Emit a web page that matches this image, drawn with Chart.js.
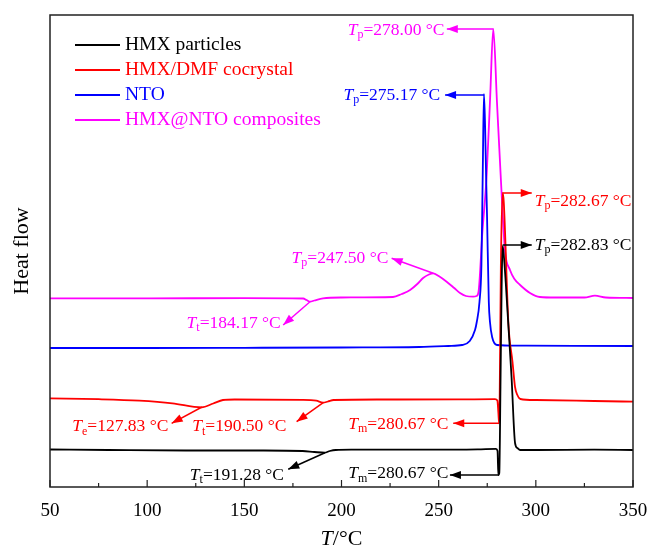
<!DOCTYPE html>
<html>
<head>
<meta charset="utf-8">
<script src="https://cdn.jsdelivr.net/npm/chart.js@4/dist/chart.umd.min.js"></script>
<style>
  body { margin: 0; background: #fff; }
  canvas { display: block; }
</style>
</head>
<body>
<canvas id="dsc" width="649" height="550"></canvas>
<script>
// DSC curves, heat flow in arbitrary units (exo up)
const hmxT  = [50, 80, 120, 160, 180, 186, 191.3, 194, 197, 205, 240, 270, 279.5, 280.3, 280.7, 281.2, 281.8, 282.4, 282.9, 283.5, 284.5, 285.7, 287.5, 289.3, 290.5, 291.9, 300, 330, 350];
const hmxHF = [37.5, 37, 36.5, 36.5, 36, 35, 34.3, 36, 37, 37.3, 37.3, 37.6, 38.2, 36, 12, 14, 100, 200, 241, 232, 205, 167, 110, 44, 39, 37, 37, 37.3, 37];

const dmfT  = [50, 75, 96, 113, 128, 134, 139, 145, 180, 187, 190.5, 193, 196, 220, 260, 279, 280.2, 280.7, 281.1, 281.4, 282, 282.9, 283.5, 285.9, 288, 289.3, 290.5, 292, 300, 330, 350];
const dmfHF = [88.7, 87.8, 86.3, 83.7, 79.7, 83.5, 87, 87.5, 87.2, 86.3, 84.3, 85.5, 87, 87.5, 87.6, 87.8, 86.5, 75, 63.5, 90, 220, 294, 285, 163, 125, 100, 92, 88, 87, 86, 85.3];

const ntoT  = [50, 100, 150, 200, 240, 255, 262, 266, 268.7, 269.6, 271, 272, 272.7, 273.3, 273.9, 274.4, 274.9, 275.8, 276.4, 277.5, 280, 290, 320, 350];
const ntoHF = [139, 139, 139.2, 139.5, 140, 141, 142, 146, 157, 165, 185, 222, 317, 393, 360, 312, 270, 185, 165, 150, 142, 141.3, 141.2, 141];

const magT  = [50, 100, 150, 180.3, 182, 183.8, 186, 190.5, 200, 226.5, 231, 235.3, 239, 242, 245, 247.2, 250, 254.1, 258, 261, 264, 267.8, 269.5, 270.5, 272.5, 274.7, 276.5, 278.1, 280, 281.9, 284.1, 286.7, 289, 291.9, 297, 302.1, 310, 325, 330.4, 336, 350];
const magHF = [188.7, 188.7, 188.8, 188.5, 187, 185.3, 186.5, 188.7, 189.5, 190, 193, 197, 203, 209, 212.5, 213.7, 211, 205.3, 199, 194, 191, 190.3, 191, 195, 255, 312, 390, 458, 385, 312, 237, 217, 208, 202, 194, 190, 189.5, 189.5, 191.3, 189.5, 189];

const seriesNames  = ['HMX particles', 'HMX/DMF cocrystal', 'NTO', 'HMX@NTO composites'];
const seriesColors = ['#000000', '#ff0000', '#0000ff', '#ff00ff'];

// annotation arrows: path in (T, heat flow), label anchor, text
const notes = [
  { c: 3, path: [[278.1, 458], [254.2, 458]], at: [253.0, 457], align: 'right', sub: 'p', txt: '=278.00 °C' },
  { c: 2, path: [[273.3, 392], [253.3, 392]], at: [250.8, 392], align: 'right', sub: 'p', txt: '=275.17 °C' },
  { c: 1, path: [[282.9, 294], [297.9, 294]], at: [299.4, 286], align: 'left',  sub: 'p', txt: '=282.67 °C' },
  { c: 0, path: [[282.9, 242], [297.9, 242]], at: [299.4, 242], align: 'left',  sub: 'p', txt: '=282.83 °C' },
  { c: 3, path: [[247.2, 213.7], [225.8, 228.7]], at: [224.1, 229], align: 'right', sub: 'p', txt: '=247.50 °C' },
  { c: 3, path: [[183.8, 185.3], [170.0, 162]], at: [168.7, 164], align: 'right', sub: 't', txt: '=184.17 °C' },
  { c: 1, path: [[128.2, 80], [112.6, 63.7]], at: [110.9, 60.5], align: 'right', sub: 'e', txt: '=127.83 °C' },
  { c: 1, path: [[190.6, 84.3], [176.9, 65.3]], at: [171.6, 60.5], align: 'right', sub: 't', txt: '=190.50 °C' },
  { c: 1, path: [[281.1, 63.7], [257.5, 63.7]], at: [255.0, 63], align: 'right', sub: 'm', txt: '=280.67 °C' },
  { c: 0, path: [[281.1, 12], [255.8, 12]], at: [255.0, 13.5], align: 'right', sub: 'm', txt: '=280.67 °C' },
  { c: 0, path: [[191.5, 34.3], [172.6, 17.7]], at: [170.4, 12], align: 'right', sub: 't', txt: '=191.28 °C' }
];

const SERIF = '"Liberation Serif", "Times New Roman", serif';

function pts(xs, ys) {
  return xs.map((t, i) => ({ x: t, y: ys[i] }));
}

function drawTLabel(ctx, x, y, sub, txt, align, color) {
  ctx.fillStyle = color;
  ctx.textBaseline = 'middle';
  ctx.textAlign = 'left';
  ctx.font = 'italic 17.5px ' + SERIF;
  const wT = ctx.measureText('T').width;
  ctx.font = '12px ' + SERIF;
  const wS = ctx.measureText(sub).width;
  ctx.font = '17.5px ' + SERIF;
  const wV = ctx.measureText(txt).width;
  const x0 = align === 'right' ? x - (wT + wS + wV) : x;
  ctx.font = 'italic 17.5px ' + SERIF;
  ctx.fillText('T', x0, y);
  ctx.font = '12px ' + SERIF;
  ctx.fillText(sub, x0 + wT, y + 5);
  ctx.font = '17.5px ' + SERIF;
  ctx.fillText(txt, x0 + wT + wS, y);
}

const decor = {
  id: 'decor',
  afterDatasetsDraw(chart) {
    const { ctx, chartArea: a, scales: { x, y } } = chart;
    ctx.save();

    // plot frame
    ctx.strokeStyle = '#222';
    ctx.lineWidth = 1.5;
    ctx.strokeRect(a.left, a.top, a.right - a.left, a.bottom - a.top);

    // inward ticks, minor ones halfway
    ctx.lineWidth = 1.2;
    const tv = x.ticks.map(t => t.value);
    tv.forEach((v, i) => {
      const px = x.getPixelForValue(v);
      ctx.beginPath(); ctx.moveTo(px, a.bottom); ctx.lineTo(px, a.bottom - 7); ctx.stroke();
      if (i < tv.length - 1) {
        const pm = x.getPixelForValue((v + tv[i + 1]) / 2);
        ctx.beginPath(); ctx.moveTo(pm, a.bottom); ctx.lineTo(pm, a.bottom - 4); ctx.stroke();
      }
    });

    // legend
    chart.data.datasets.forEach((ds, i) => {
      const ly = 45 + i * 25;
      ctx.strokeStyle = ds.borderColor;
      ctx.lineWidth = 2;
      ctx.beginPath(); ctx.moveTo(75, ly); ctx.lineTo(120, ly); ctx.stroke();
      ctx.fillStyle = ds.borderColor;
      ctx.font = '19.5px ' + SERIF;
      ctx.textAlign = 'left';
      ctx.textBaseline = 'middle';
      ctx.fillText(ds.label, 125, ly);
    });

    // annotation arrows and labels
    notes.forEach(n => {
      const col = seriesColors[n.c];
      const p = n.path.map(([t, h]) => [x.getPixelForValue(t), y.getPixelForValue(h)]);
      ctx.strokeStyle = col;
      ctx.fillStyle = col;
      ctx.lineWidth = 1.5;
      ctx.beginPath();
      p.forEach(([px, py], i) => i ? ctx.lineTo(px, py) : ctx.moveTo(px, py));
      ctx.stroke();
      const [x1, y1] = p[p.length - 2];
      const [x2, y2] = p[p.length - 1];
      const ang = Math.atan2(y2 - y1, x2 - x1);
      ctx.beginPath();
      ctx.moveTo(x2, y2);
      ctx.lineTo(x2 - 11 * Math.cos(ang) + 4 * Math.sin(ang), y2 - 11 * Math.sin(ang) - 4 * Math.cos(ang));
      ctx.lineTo(x2 - 11 * Math.cos(ang) - 4 * Math.sin(ang), y2 - 11 * Math.sin(ang) + 4 * Math.cos(ang));
      ctx.closePath();
      ctx.fill();
      drawTLabel(ctx, x.getPixelForValue(n.at[0]), y.getPixelForValue(n.at[1]), n.sub, n.txt, n.align, col);
    });

    // axis titles
    ctx.fillStyle = '#000';
    ctx.textBaseline = 'middle';
    ctx.textAlign = 'left';
    ctx.font = 'italic 22px ' + SERIF;
    const wT = ctx.measureText('T').width;
    ctx.font = '22px ' + SERIF;
    const wR = ctx.measureText('/°C').width;
    const cx = (a.left + a.right) / 2 - (wT + wR) / 2;
    ctx.font = 'italic 22px ' + SERIF;
    ctx.fillText('T', cx, 539);
    ctx.font = '22px ' + SERIF;
    ctx.fillText('/°C', cx + wT, 539);

    ctx.translate(22, (a.top + a.bottom) / 2);
    ctx.rotate(-Math.PI / 2);
    ctx.textAlign = 'center';
    ctx.fillText('Heat flow', 0, 0);

    ctx.restore();
  }
};

const series = [pts(hmxT, hmxHF), pts(dmfT, dmfHF), pts(ntoT, ntoHF), pts(magT, magHF)];

new Chart(document.getElementById('dsc'), {
  type: 'line',
  data: {
    datasets: series.map((d, i) => ({
      label: seriesNames[i],
      data: d,
      borderColor: seriesColors[i],
      backgroundColor: seriesColors[i],
      borderWidth: 1.8,
      pointRadius: 0,
      cubicInterpolationMode: 'monotone',
      fill: false
    }))
  },
  options: {
    responsive: false,
    animation: false,
    layout: { padding: { left: 50, right: 16, top: 15, bottom: 0 } },
    plugins: {
      legend: { display: false },
      tooltip: { enabled: false }
    },
    scales: {
      x: {
        type: 'linear',
        min: 50,
        max: 350,
        grid: { display: false, drawTicks: false },
        border: { display: false },
        ticks: { stepSize: 50, padding: 13, color: '#000', font: { family: SERIF, size: 19 } },
        afterFit: s => { s.height = 63; s.paddingLeft = 0; s.paddingRight = 0; }
      },
      y: {
        display: false,
        min: 0,
        max: 472
      }
    }
  },
  plugins: [decor]
});
</script>
</body>
</html>
